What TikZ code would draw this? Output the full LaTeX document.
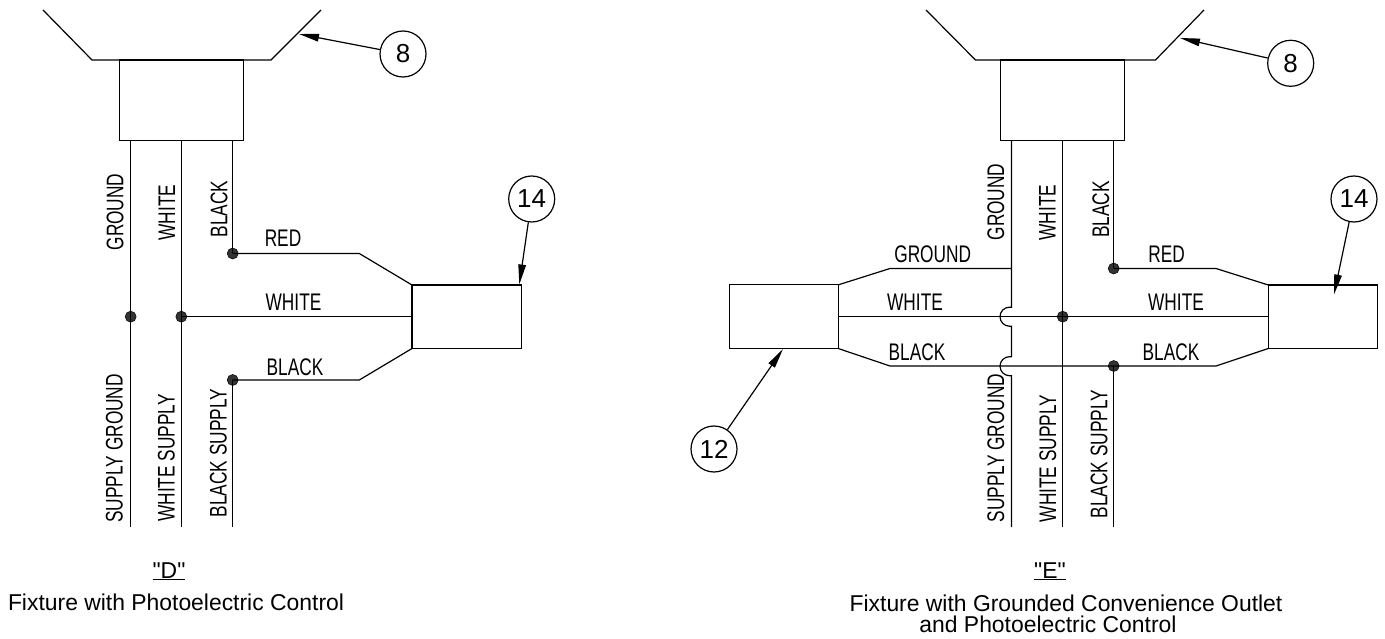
\documentclass[tikz,border=0pt]{standalone}
\usepackage{fontspec}
\setmainfont{Liberation Sans}
\newfontfamily\capf{Liberation Sans}
\newfontfamily\nar[FakeStretch=0.72]{Liberation Sans}
\usetikzlibrary{arrows.meta}
\tikzset{
 wire/.style={line width=1.2pt,line join=miter},
 dotj/.style={circle,fill=black!80,draw=black,line width=0.5pt,inner sep=0pt,minimum size=11pt},
 lab/.style={inner sep=0pt,font=\nar\fontsize{24}{26}\selectfont,anchor=base},
 vlab/.style={inner sep=0pt,font=\nar\fontsize{24}{26}\selectfont,rotate=90,anchor=base},
 captxt/.style={inner sep=0pt,font=\capf\fontsize{22.9}{24}\selectfont,anchor=base,align=center},
 num/.style={circle,draw=black,line width=1.2pt,minimum size=46pt,inner sep=0pt,font=\fontsize{26}{28}\selectfont},
 boxx/.style={draw=black,line width=1.2pt,anchor=north west,inner sep=0pt,outer sep=0pt},
 lead/.style={line width=1.2pt,-{Triangle[length=20pt,width=7.5pt]}},
}
\begin{document}
\begin{tikzpicture}[x=1pt,y=-1pt]
\useasboundingbox (0,0) rectangle (1385,639);
% ---------- D ----------
\draw[wire] (43,10)--(92,60)--(271,60)--(321,10);
\coordinate (d8t) at (299,34);
\node[boxx,minimum width=124.4pt,minimum height=80.7pt] (dfix) at (119.3,60) {};
\node[boxx,minimum width=109.3pt,minimum height=63.5pt] (dctl) at (412,285) {};
\node[dotj] (dg) at (130.7,316.7) {};
\node[dotj] (dw) at (181.3,316.7) {};
\node[dotj] (dr) at (232.7,253.5) {};
\node[dotj] (db) at (232.7,380) {};
\coordinate (dge) at (130.7,527);\coordinate (dwe) at (181.3,527);\coordinate (dbe) at (232.7,527);
\draw[wire] (dfix.south west-|dg)--(dge);
\draw[wire] (dfix.south west-|dw)--(dwe);
\draw[wire] (dfix.south west-|dr)--(dr.center);
\draw[wire] (db.center)--(dbe);
\draw[wire] (dr.center)--(359.3,253.5)--(412,285);
\draw[wire] (dw.center)--(412,316.7);
\draw[wire] (db.center)--(359.3,380)--(412,348.5);
\node[num] (d8) at (403,54) {8};
\node[num] (d14) at (531.7,199) {14};
\draw[lead] (d8)--(d8t);
\coordinate (d14t) at (519.3,284.5);
\draw[lead] (d14)--(d14t);
\node[vlab] (l1) at (123.3,212) {GROUND};
\node[vlab] (l2) at (175,212.5) {WHITE};
\node[vlab] (l3) at (227.3,209) {BLACK};
\node[vlab] (l4) at (122.5,448.3) {SUPPLY GROUND};
\node[vlab] (l5) at (174.5,458) {WHITE SUPPLY};
\node[vlab] (l6) at (226.7,453) {BLACK SUPPLY};
\node[lab] (l7) at (283,246.7) {RED};
\node[lab] (l8) at (293.5,310) {WHITE};
\node[lab] (l9) at (295,375) {BLACK};
\node[captxt] (c1) at (169,578) {\underline{"D"}};
\node[captxt] (c2) at (176,610) {Fixture with Photoelectric Control};
% ---------- E ----------
\draw[wire] (926,10)--(975.5,60)--(1155.5,60)--(1204,10);
\coordinate (e8t) at (1180,38);
\node[boxx,minimum width=123.6pt,minimum height=80.7pt] (efix) at (1000.7,60) {};
\node[boxx,minimum width=109.5pt,minimum height=64pt] (el) at (729.3,284.7) {};
\node[boxx,minimum width=109pt,minimum height=63.5pt] (er) at (1268.3,285) {};
\node[dotj] (ew) at (1062.7,316.7) {};
\node[dotj] (er1) at (1113.7,268.5) {};
\node[dotj] (eb) at (1113.7,366) {};
\draw[wire] (1011.5,140.7)--(1011.5,307.2)--(1009.5,307.2) arc[start angle=270,end angle=90,radius=9.5]--(1011.5,326.2)
  --(1011.5,356.7)--(1009.5,356.7) arc[start angle=270,end angle=90,radius=9.5]--(1011.5,375.7)--(1011.5,527);
\draw[wire] (1062.7,140.7)--(1062.7,527);
\draw[wire] (1113.7,140.7)--(er1.center);
\draw[wire] (eb.center)--(1113.7,527);
\draw[wire] (838.8,284.7)--(890,268.5)--(1011.5,268.5);
\draw[wire] (838.8,316.7)--(1268.3,316.7);
\draw[wire] (838.8,348.7)--(890,366)--(1216,366)--(1268.3,348.5);
\draw[wire] (er1.center)--(1216,268.5)--(1268.3,285);
\node[num] (e8) at (1290.7,63.3) {8};
\node[num] (e14) at (1354,199) {14};
\node[num] (e12) at (714,449) {12};
\coordinate (e14t) at (1334,294.5);
\coordinate (e12t) at (783,349);
\draw[lead] (e8)--(e8t);
\draw[lead] (e14)--(e14t);
\draw[lead] (e12)--(e12t);
\node[vlab] (m1) at (1004,202) {GROUND};
\node[vlab] (m2) at (1055.7,212.5) {WHITE};
\node[vlab] (m3) at (1109,209.5) {BLACK};
\node[vlab] (m4) at (1004,448) {SUPPLY GROUND};
\node[vlab] (m5) at (1056,458.5) {WHITE SUPPLY};
\node[vlab] (m6) at (1107.3,454) {BLACK SUPPLY};
\node[lab] (m7) at (932.7,262.3) {GROUND};
\node[lab] (m8) at (915,310) {WHITE};
\node[lab] (m9) at (917,360) {BLACK};
\node[lab] (m10) at (1166.7,262.3) {RED};
\node[lab] (m11) at (1176,310) {WHITE};
\node[lab] (m12) at (1171,360) {BLACK};
\node[captxt] (c3) at (1050,578) {\underline{"E"}};
\node[captxt] (c4) at (1066,611) {Fixture with Grounded Convenience Outlet};
\node[captxt] (c5) at (1048,632) {and Photoelectric Control};
\end{tikzpicture}
\end{document}
